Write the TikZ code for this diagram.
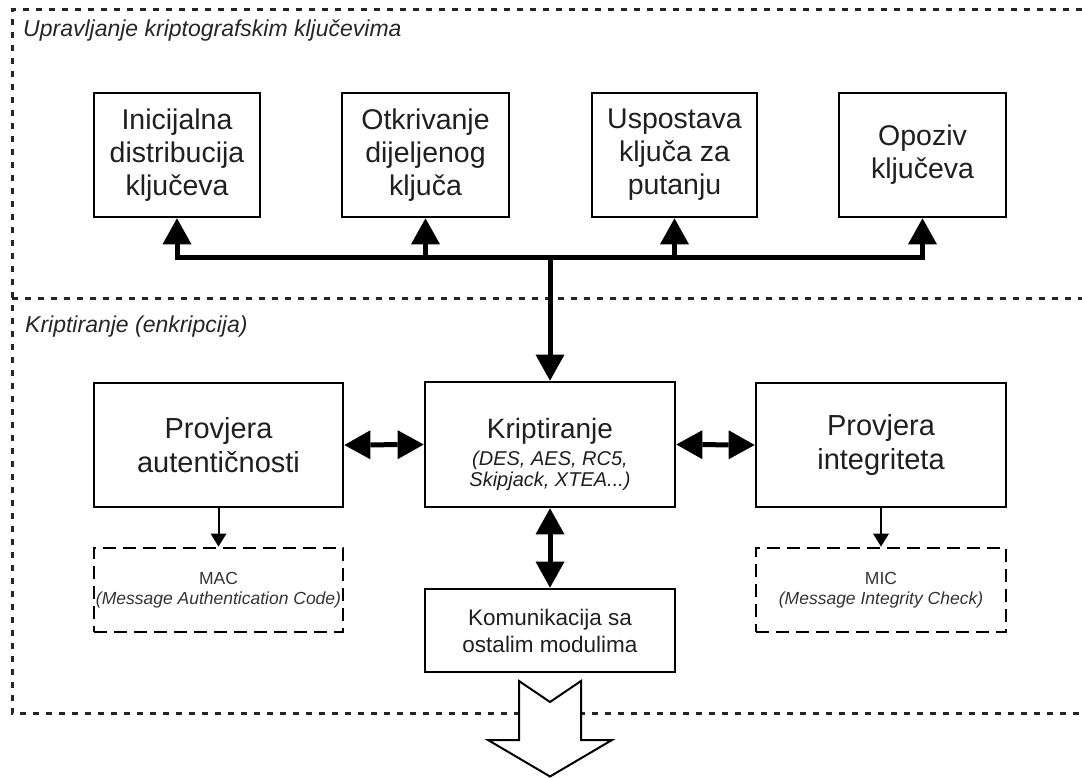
\documentclass[tikz,border=0pt]{standalone}
\usepackage{fontspec}
\setmainfont{Liberation Sans}
\usetikzlibrary{arrows.meta}
\begin{document}
\begin{tikzpicture}[x=1pt,y=-1pt,
  region/.style={line width=3pt, dash pattern=on 6pt off 7pt, color=black!85},
  lbl/.style={anchor=base west, font=\fontsize{23}{23}\selectfont\itshape, text=black!85, inner sep=0pt},
  kbox/.style={draw, line width=2.7pt, inner sep=0pt, align=center, text=black!88, minimum height=124pt},
  topbox/.style={kbox, font=\fontsize{28.5}{33}\selectfont},
  midbox/.style={kbox, minimum width=250pt, font=\fontsize{29}{34}\selectfont},
  outbox/.style={draw, line width=2.8pt, dash pattern=on 13pt off 7pt, inner sep=0pt, align=center,
     minimum width=250pt, minimum height=84pt, text=black!80, font=\fontsize{17.5}{20}\selectfont},
  bus/.style={line width=5pt, line join=miter, -{Triangle[length=26pt,width=29pt,line width=0pt]}},
  dbl/.style={line width=5pt, {Triangle[length=26pt,width=29pt,line width=0pt]}-{Triangle[length=26pt,width=29pt,line width=0pt]}},
  thin/.style={line width=2pt, -{Triangle[length=13pt,width=16pt,line width=0pt]}}
]
\useasboundingbox (0,0) rectangle (1082,778);

% regions
\draw[region] (1082,10) -- (12,10) -- (12,713) -- (1082,713);
\draw[region] (12,298) -- (1082,298);
\node[lbl] (l1) at (23,37) {Upravljanje kriptografskim ključevima};
\node[lbl] (l2) at (25,332) {Kriptiranje (enkripcija)};

% top boxes
\node[topbox, minimum width=166pt] (b1) at (177,155) {Inicijalna\\distribucija\\ključeva};
\node[topbox, minimum width=167pt] (b2) at (425.5,155) {Otkrivanje\\dijeljenog\\ključa};
\node[topbox, minimum width=165pt] (b3) at (674.5,155) {Uspostava\\ključa za\\putanju};
\node[topbox, minimum width=167pt] (b4) at (922.5,155) {Opoziv\\ključeva};

% middle boxes
\node[midbox, minimum width=249pt] (pa) at (218.5,445) {Provjera\\autentičnosti};
\node[kbox, minimum width=250pt, minimum height=125pt, font=\fontsize{20}{21}\selectfont\itshape] (kr) at (550,444.5)
  {{\upshape\fontsize{28}{28}\selectfont\rule{0pt}{40pt}Kriptiranje}\\[6pt](DES, AES, RC5,\\Skipjack, XTEA...)};
\node[midbox] (pi) at (881,445) {Provjera\\integriteta};

% outputs
\node[outbox, minimum width=249pt] (mac) at (218.5,590) {MAC\\\textit{(Message Authentication Code)}};
\node[outbox] (mic) at (881,590) {MIC\\\textit{(Message Integrity Check)}};
\node[kbox, minimum width=250pt, minimum height=83pt, font=\fontsize{22.5}{27}\selectfont] (ko) at (550,630.5) {Komunikacija sa\\ostalim modulima};

% bus
\coordinate (j) at (550,258);
\foreach \n in {b1,b2,b3,b4} \draw[bus] (j) -| (\n.south);
\draw[bus] (j) -- (kr.north);

% double arrows
\draw[dbl] (pa.east) -- (kr.west);
\draw[dbl] (kr.east) -- (pi.west);
\draw[dbl] (kr.south) -- (ko.north);

% thin arrows
\draw[thin] (pa.south) -- (mac.north);
\draw[thin] (pi.south) -- (mic.north);

% hollow output arrow
\draw[line width=2pt, fill=white, line join=miter]
  (519,681) -- (550,702) -- (581,681) -- (581,740) -- (612,740) -- (550,776.5) -- (488,740) -- (519,740) -- cycle;
\end{tikzpicture}
\end{document}
